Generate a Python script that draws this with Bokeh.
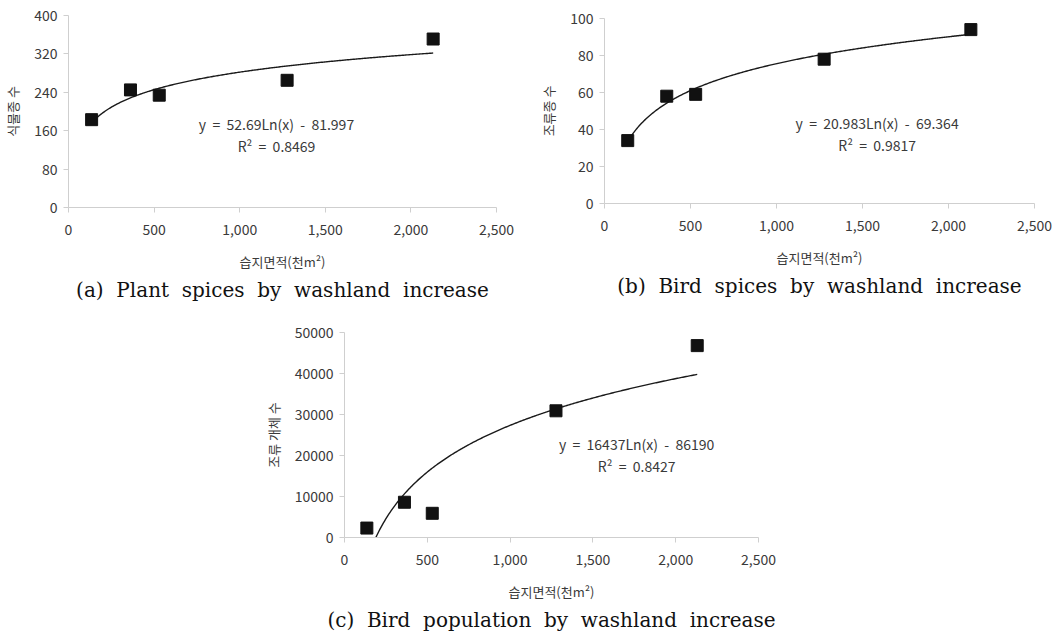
import numpy as np
from bokeh.plotting import figure
from bokeh.layouts import column, row
from bokeh.models import (Range1d, FixedTicker, NumeralTickFormatter, PrintfTickFormatter,
                          Title, Label, Spacer)
from bokeh.embed import file_html
from bokeh.resources import INLINE

# ---------------- data ----------------
area = [135, 362, 530, 1277, 2130]            # 습지면적 (천m²)
plant_species = [183, 245, 234, 265, 351]     # 식물종 수
bird_species = [34, 58, 59, 78, 94]           # 조류종 수
bird_population = [2300, 8600, 5900, 30900, 46800]  # 조류 개체 수

x_ticks = [0, 500, 1000, 1500, 2000, 2500]
y_ticks_a = [0, 80, 160, 240, 320, 400]
y_ticks_b = [0, 20, 40, 60, 80, 100]
y_ticks_c = [0, 10000, 20000, 30000, 40000, 50000]

fit_a = [52.69, -81.997]
fit_b = [20.983, -69.364]
fit_c = [16437, -86190]

NB = "\u00a0"
eq_a = ["y" + NB + " = " + NB + "52.69Ln(x)" + NB + " - " + NB + "81.997", "R²" + NB + " = " + NB + "0.8469"]
eq_b = ["y" + NB + " = " + NB + "20.983Ln(x)" + NB + " - " + NB + "69.364", "R²" + NB + " = " + NB + "0.9817"]
eq_c = ["y" + NB + " = " + NB + "16437Ln(x)" + NB + " - " + NB + "86190", "R²" + NB + " = " + NB + "0.8427"]

x_title = "습지면적(천m²)"
y_title_a = "식물종 수"
y_title_b = "조류종 수"
y_title_c = "조류 개체 수"

caption_a = "(a) Plant spices by washland increase"
caption_b = "(b) Bird spices by washland increase"
caption_c = "(c) Bird population by washland increase"

KFONT = "Noto Sans CJK KR"
SERIF = "DejaVu Serif"
AX_GRAY = "#cfcfcf"
TXT = "#3a3a3a"


def spaced(s, n=2):
    return (NB * n).join(s.split(" "))


def panel(y_vals, fit, eq, eq_pos, y_ticks, y_title, caption, fmt,
          fw, fh, left, right, top, bottom):
    p = figure(frame_width=fw, frame_height=fh, output_backend="svg",
               toolbar_location=None,
               x_range=Range1d(0, x_ticks[-1]), y_range=Range1d(0, y_ticks[-1]),
               min_border_left=left, min_border_right=right,
               min_border_top=top, min_border_bottom=bottom)
    p.outline_line_color = None
    p.grid.visible = False
    p.background_fill_color = "white"
    p.border_fill_color = "white"

    # trendline from printed equation
    xs = np.linspace(min(area), max(area), 300)
    ys = fit[0] * np.log(xs) + fit[1]
    p.line(xs, ys, line_color="#1a1a1a", line_width=1.4)
    p.scatter(area, y_vals, marker="square", size=12, fill_color="#111111",
              line_color="#111111")

    for i, t in enumerate(eq):
        p.add_layout(Label(x=eq_pos[0], y=eq_pos[1][i], text=t, text_align="center",
                           text_baseline="middle", text_font=KFONT,
                           text_font_size="14px", text_color=TXT))

    for ax in (p.xaxis[0], p.yaxis[0]):
        ax.axis_line_color = AX_GRAY
        ax.major_tick_line_color = AX_GRAY
        ax.major_tick_out = 5
        ax.major_tick_in = 0
        ax.minor_tick_line_color = None
        ax.major_label_text_font = KFONT
        ax.major_label_text_font_size = "14px"
        ax.major_label_text_color = TXT
        ax.axis_label_text_font = KFONT
        ax.axis_label_text_font_size = "13px"
        ax.axis_label_text_font_style = "normal"
        ax.axis_label_text_color = TXT

    p.xaxis.ticker = FixedTicker(ticks=x_ticks)
    p.xaxis.formatter = NumeralTickFormatter(format="0,0")
    p.xaxis.axis_label = x_title
    p.xaxis.major_label_standoff = 11
    p.xaxis.axis_label_standoff = 14

    p.yaxis.ticker = FixedTicker(ticks=y_ticks)
    p.yaxis.formatter = fmt
    p.yaxis.axis_label = y_title
    p.yaxis.major_label_standoff = 6
    p.yaxis.axis_label_standoff = 9

    p.add_layout(Title(text=spaced(caption), align="center", text_font=SERIF,
                       text_font_size="20px", text_font_style="normal",
                       text_color="#111111", standoff=5), "below")
    return p


pa = panel(plant_species, fit_a, eq_a, (1215, [175, 129]), y_ticks_a, y_title_a,
           caption_a, PrintfTickFormatter(format="%d"),
           fw=428, fh=192, left=67, right=40, top=15, bottom=103)
pb = panel(bird_species, fit_b, eq_b, (1585, [43.3, 31.4]), y_ticks_b, y_title_b,
           caption_b, PrintfTickFormatter(format="%d"),
           fw=430, fh=185, left=68, right=18, top=18, bottom=107)
pc = panel(bird_population, fit_c, eq_c, (1764, [22850, 17490]), y_ticks_c, y_title_c,
           caption_c, PrintfTickFormatter(format="%d"),
           fw=414, fh=205, left=94, right=40, top=22, bottom=100)

layout = column(row(column(pa), column(pb)), row(Spacer(width=250, height=10), pc))

open("out.html", "w").write(file_html(layout, INLINE))
